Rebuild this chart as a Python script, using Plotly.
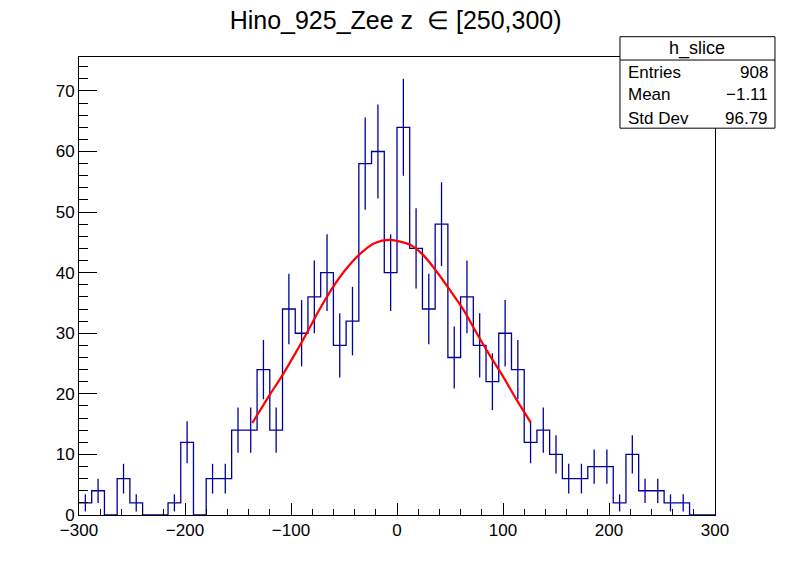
import numpy as np
import plotly.graph_objects as go

# histogram h_slice: 50 bins of width 12 from -300 to 300
bin_lo = -300
bin_width = 12
counts = [2, 4, 0, 6, 2, 0, 0, 2, 12, 0,
          6, 6, 14, 14, 24, 14, 34, 30, 36, 40,
          28, 32, 58, 60, 40, 64, 44, 34, 48, 26,
          36, 28, 22, 30, 24, 12, 14, 10, 6, 6,
          8, 8, 2, 10, 4, 4, 2, 2, 0, 0]

# gaussian fit curve
fit_x = [-136.5, -130.8, -119.8, -107.3, -96.2, -85.2, -74.2, -61.6, -49, -34.9, -20.8,
         -6.6, 12.3, 24.8, 37.4, 50, 62.6, 75.2, 87.7, 100.3, 112.9, 126.1]
fit_y = [15.2, 16.8, 19.9, 23.3, 26.6, 30.0, 33.6, 37.3, 40.4, 43.1, 44.9,
         45.4, 44.6, 42.9, 40.2, 37.1, 33.9, 30.0, 26.3, 22.8, 19.0, 15.3]

stats_labels = ["Entries", "Mean", "Std Dev"]
stats_values = ["908", "\u22121.11", "96.79"]

BLUE = "#000099"
FONT = "Liberation Sans"

edges = [bin_lo + i * bin_width for i in range(len(counts) + 1)]
centers = [e + bin_width / 2 for e in edges[:-1]]
errors = list(np.sqrt(counts))

fig = go.Figure()

# step outline
fig.add_trace(go.Scatter(
    x=edges, y=counts + [counts[-1]],
    mode="lines", line=dict(color=BLUE, width=1.3, shape="hv"),
    hoverinfo="skip", showlegend=False
))

# error bars
fig.add_trace(go.Scatter(
    x=centers, y=counts, mode="markers",
    marker=dict(size=0.1, color=BLUE),
    error_y=dict(type="data", array=errors, visible=True,
                 color=BLUE, thickness=1.3, width=0),
    showlegend=False
))

# fit
fig.add_trace(go.Scatter(
    x=fit_x, y=fit_y, mode="lines",
    line=dict(color="#ff0000", width=2.2, shape="spline", smoothing=0.8),
    showlegend=False
))

# stats box
bx0, bx1, by0, by1, bhead = 0.8506, 1.0943, 0.8446, 1.0443, 0.9934
fig.add_shape(type="rect", xref="paper", yref="paper",
              x0=bx0, x1=bx1, y0=by0, y1=by1,
              line=dict(color="black", width=1), fillcolor="white", layer="above")
fig.add_shape(type="line", xref="paper", yref="paper",
              x0=bx0, x1=bx1, y0=bhead, y1=bhead,
              line=dict(color="black", width=1), layer="above")
fig.add_annotation(xref="paper", yref="paper", x=(bx0 + bx1) / 2, y=(by1 + bhead) / 2,
                   text="h_slice", showarrow=False, xanchor="center", yanchor="middle",
                   font=dict(family=FONT, size=18, color="black"))
row_y = [0.9668, 0.9171, 0.8664]
for lab, val, yy in zip(stats_labels, stats_values, row_y):
    fig.add_annotation(xref="paper", yref="paper", x=bx0 + 0.009, y=yy, text=lab,
                       showarrow=False, xanchor="left", yanchor="middle",
                       font=dict(family=FONT, size=17, color="black"))
    fig.add_annotation(xref="paper", yref="paper", x=bx1 - 0.008, y=yy, text=val,
                       showarrow=False, xanchor="right", yanchor="middle",
                       font=dict(family=FONT, size=17, color="black"))

fig.update_layout(
    width=796, height=572,
    margin=dict(l=79, r=81, t=57, b=57),
    paper_bgcolor="white", plot_bgcolor="white",
    font=dict(family=FONT, size=17, color="black"),
    title=dict(text="Hino_925_Zee z  \u2208 [250,300)", x=0.497, xanchor="center",
               y=0.965, yanchor="middle", font=dict(family=FONT, size=25, color="black")),
    showlegend=False,
)
fig.update_xaxes(
    range=[-300, 300], dtick=100, tick0=-300,
    ticks="inside", ticklen=12, tickcolor="black", tickwidth=1,
    minor=dict(dtick=20, ticks="inside", ticklen=6, tickcolor="black"),
    showline=True, linecolor="black", linewidth=1, mirror=True,
    showgrid=False, zeroline=False, tickfont=dict(size=17)
)
fig.update_yaxes(
    range=[0, 75.6], dtick=10, tick0=0,
    ticks="inside", ticklen=18, tickcolor="black", tickwidth=1,
    minor=dict(dtick=2, ticks="inside", ticklen=9, tickcolor="black"),
    showline=True, linecolor="black", linewidth=1, mirror=True,
    showgrid=False, zeroline=False, tickfont=dict(size=17)
)

fig.write_html("out.html", config={"displayModeBar": False},
               post_script="document.body.style.margin='0px';")
